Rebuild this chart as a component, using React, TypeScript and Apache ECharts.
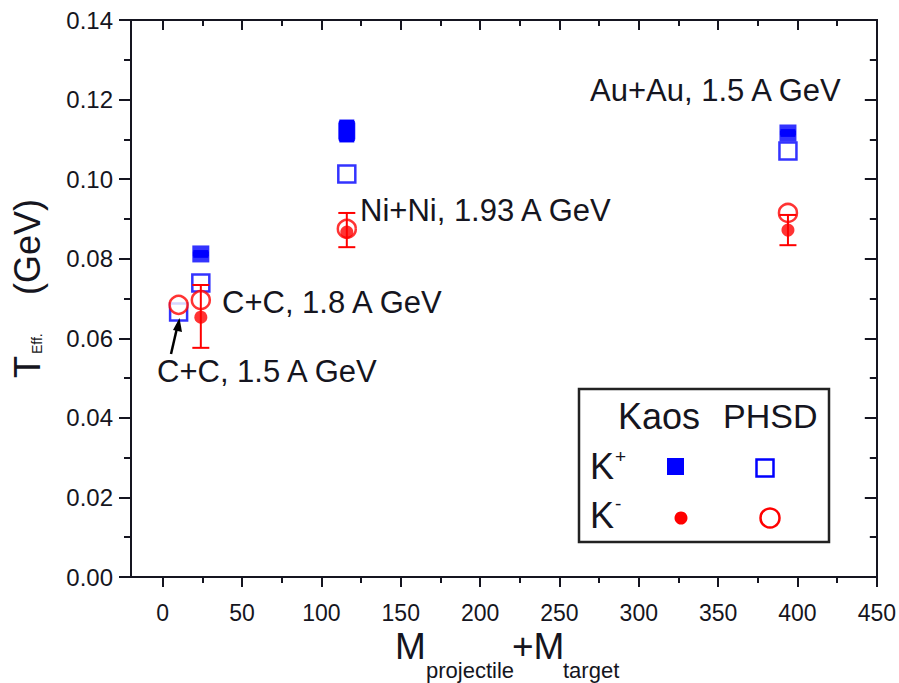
import React, { useEffect, useRef } from "react";
import * as echarts from "echarts";

// ---- data ----
const xMajorTicks = [0, 50, 100, 150, 200, 250, 300, 350, 400, 450];
const xMinorTicks = [25, 75, 125, 175, 225, 275, 325, 375, 425];
const yMinorTicks = [0.01, 0.03, 0.05, 0.07, 0.09, 0.11, 0.13];

// [M_proj + M_target, T_eff]
const kaosKPlus = [
  [24, 0.0812],
  [116, 0.1121],
  [394, 0.1116],
];
// [x, low, high]
const kaosKPlusErr = [
  [24, 0.0806, 0.0818],
  [116, 0.1096, 0.1146],
  [394, 0.111, 0.1122],
];
const phsdKPlus = [
  [10, 0.0666],
  [24, 0.0739],
  [116, 0.1013],
  [394, 0.1071],
];
const kaosKMinus = [
  [24, 0.0653],
  [116, 0.0867],
  [394, 0.0872],
];
const kaosKMinusErr = [
  [24, 0.0576, 0.0734],
  [116, 0.0829, 0.0915],
  [394, 0.0834, 0.091],
];
const phsdKMinus = [
  [10, 0.0684],
  [24, 0.0696],
  [116, 0.0875],
  [394, 0.0915],
];

const annotationTexts = [
  "Au+Au, 1.5 A GeV",
  "Ni+Ni, 1.93 A GeV",
  "C+C, 1.8 A GeV",
  "C+C, 1.5 A GeV",
];

const BLUE = "#0000ff";
const RED = "#ff0000";
const INK = "#151520";
const FONT = "'Liberation Sans', Arial, sans-serif";

function errorBars(data: number[][], color: string, cap: number, lw: number, capLw: number, z: number) {
  return {
    type: "custom",
    z,
    data,
    encode: { x: 0, y: [1, 2] },
    renderItem: (_p: any, api: any) => {
      const x = api.value(0);
      const lo = api.coord([x, api.value(1)]);
      const hi = api.coord([x, api.value(2)]);
      const hw = cap / 2;
      const style = { stroke: color, lineWidth: capLw };
      return {
        type: "group",
        children: [
          { type: "line", shape: { x1: lo[0], y1: lo[1], x2: hi[0], y2: hi[1] }, style: { stroke: color, lineWidth: lw } },
          { type: "line", shape: { x1: lo[0] - hw, y1: lo[1], x2: lo[0] + hw, y2: lo[1] }, style },
          { type: "line", shape: { x1: hi[0] - hw, y1: hi[1], x2: hi[0] + hw, y2: hi[1] }, style },
        ],
      };
    },
  };
}

export default function App() {
  const ref = useRef<HTMLDivElement>(null);

  useEffect(() => {
    if (!ref.current) return;
    const chart = echarts.init(ref.current, null, { renderer: "svg" });

    const axisLine = { show: true, onZero: false, lineStyle: { color: INK, width: 2 } };
    const baseX = { type: "value", min: -20, max: 450, splitLine: { show: false } };
    const baseY = { type: "value", min: 0, max: 0.14, splitLine: { show: false } };
    const tickStyle = { color: INK, width: 2 };

    const annPos = [
      [590, 90],
      [360, 210],
      [222, 302],
      [157, 371],
    ];

    const option: any = {
      animation: false,
      backgroundColor: "#ffffff",
      grid: { left: 131, right: 20, top: 20, bottom: 106, containLabel: false },
      xAxis: [
        {
          ...baseX,
          position: "bottom",
          axisLine,
          axisTick: { show: true, customValues: xMajorTicks, length: 10, lineStyle: tickStyle },
          axisLabel: {
            show: true,
            customValues: xMajorTicks,
            margin: 24,
            fontSize: 23,
            fontFamily: FONT,
            color: INK,
          },
        },
        {
          ...baseX,
          position: "bottom",
          axisLine,
          axisTick: { show: true, customValues: xMinorTicks, length: 6, lineStyle: tickStyle },
          axisLabel: { show: false },
        },
        {
          ...baseX,
          position: "top",
          axisLine,
          axisTick: { show: true, inside: true, customValues: xMajorTicks, length: 10, lineStyle: tickStyle },
          axisLabel: { show: false },
        },
        {
          ...baseX,
          position: "top",
          axisLine,
          axisTick: { show: true, inside: true, customValues: xMinorTicks, length: 6, lineStyle: tickStyle },
          axisLabel: { show: false },
        },
      ],
      yAxis: [
        {
          ...baseY,
          interval: 0.02,
          position: "left",
          axisLine,
          axisTick: { show: true, length: 12, lineStyle: tickStyle },
          axisLabel: {
            show: true,
            margin: 18,
            fontSize: 24,
            fontFamily: FONT,
            color: INK,
            formatter: (v: number) => v.toFixed(2),
          },
        },
        {
          ...baseY,
          position: "left",
          axisLine,
          axisTick: { show: true, customValues: yMinorTicks, length: 7, lineStyle: tickStyle },
          axisLabel: { show: false },
        },
        {
          ...baseY,
          interval: 0.02,
          position: "right",
          axisLine,
          axisTick: { show: true, inside: true, length: 12, lineStyle: tickStyle },
          axisLabel: { show: false },
        },
        {
          ...baseY,
          position: "right",
          axisLine,
          axisTick: { show: true, inside: true, customValues: yMinorTicks, length: 7, lineStyle: tickStyle },
          axisLabel: { show: false },
        },
      ],
      series: [
        errorBars(kaosKPlusErr, BLUE, 15, 16, 3, 2),
        {
          name: "Kaos K+",
          type: "scatter",
          z: 3,
          data: kaosKPlus,
          symbol: "rect",
          symbolSize: 17,
          itemStyle: { color: BLUE },
        },
        {
          name: "PHSD K+",
          type: "scatter",
          z: 4,
          data: phsdKPlus,
          symbol: "rect",
          symbolSize: 17,
          itemStyle: { color: "#ffffff", borderColor: BLUE, borderWidth: 2.5 },
        },
        {
          name: "PHSD K-",
          type: "scatter",
          z: 5,
          data: phsdKMinus,
          symbol: "circle",
          symbolSize: 18,
          itemStyle: { color: "#ffffff", borderColor: RED, borderWidth: 2.5 },
        },
        errorBars(kaosKMinusErr, RED, 17, 2, 2, 6),
        {
          name: "Kaos K-",
          type: "scatter",
          z: 7,
          data: kaosKMinus,
          symbol: "circle",
          symbolSize: 13,
          itemStyle: { color: RED },
        },
      ],
      graphic: [
        // annotations
        ...annotationTexts.map((t, i) => ({
          type: "text",
          x: annPos[i][0],
          y: annPos[i][1],
          z: 20,
          style: {
            text: t,
            fontSize: 31,
            fontFamily: FONT,
            fill: INK,
            align: "left",
            verticalAlign: "middle",
          },
        })),
        // arrow
        {
          type: "line",
          z: 20,
          shape: { x1: 171, y1: 354, x2: 177, y2: 328 },
          style: { stroke: "#000", lineWidth: 2.5 },
        },
        {
          type: "polygon",
          z: 20,
          shape: { points: [[179.5, 318], [173, 330], [182, 332]] },
          style: { fill: "#000" },
        },
        // legend box
        {
          type: "rect",
          z: 20,
          shape: { x: 579, y: 389, width: 250, height: 153 },
          style: { fill: "#ffffff", stroke: "#222", lineWidth: 2.5 },
        },
        {
          type: "text",
          z: 21,
          x: 618,
          y: 416,
          style: { text: "Kaos", fontSize: 36, fontFamily: FONT, fill: INK, align: "left", verticalAlign: "middle" },
        },
        {
          type: "text",
          z: 21,
          x: 723,
          y: 416,
          style: { text: "PHSD", fontSize: 34, fontFamily: FONT, fill: INK, align: "left", verticalAlign: "middle" },
        },
        {
          type: "text",
          z: 21,
          x: 590,
          y: 466,
          style: { text: "K", fontSize: 36, fontFamily: FONT, fill: INK, align: "left", verticalAlign: "middle" },
        },
        {
          type: "text",
          z: 21,
          x: 615,
          y: 456,
          style: { text: "+", fontSize: 19, fontFamily: FONT, fill: INK, align: "left", verticalAlign: "middle" },
        },
        {
          type: "text",
          z: 21,
          x: 590,
          y: 515,
          style: { text: "K", fontSize: 36, fontFamily: FONT, fill: INK, align: "left", verticalAlign: "middle" },
        },
        {
          type: "text",
          z: 21,
          x: 615,
          y: 503,
          style: { text: "-", fontSize: 19, fontFamily: FONT, fill: INK, align: "left", verticalAlign: "middle" },
        },
        {
          type: "rect",
          z: 21,
          shape: { x: 667, y: 458, width: 17, height: 17 },
          style: { fill: BLUE },
        },
        {
          type: "rect",
          z: 21,
          shape: { x: 756.5, y: 459.5, width: 17, height: 17 },
          style: { fill: "#fff", stroke: BLUE, lineWidth: 2.5 },
        },
        {
          type: "circle",
          z: 21,
          shape: { cx: 681, cy: 518, r: 6.5 },
          style: { fill: RED },
        },
        {
          type: "circle",
          z: 21,
          shape: { cx: 770, cy: 518, r: 9.5 },
          style: { fill: "#fff", stroke: RED, lineWidth: 2.5 },
        },
        // x-axis title
        {
          type: "text", x: 395, y: 646,
          style: { text: "M", fontSize: 37, fontFamily: FONT, fill: INK, align: "left", verticalAlign: "middle" },
        },
        {
          type: "text", x: 426, y: 670,
          style: { text: "projectile", fontSize: 22, fontFamily: FONT, fill: INK, align: "left", verticalAlign: "middle" },
        },
        {
          type: "text", x: 512, y: 646,
          style: { text: "+M", fontSize: 37, fontFamily: FONT, fill: INK, align: "left", verticalAlign: "middle" },
        },
        {
          type: "text", x: 563, y: 670,
          style: { text: "target", fontSize: 22, fontFamily: FONT, fill: INK, align: "left", verticalAlign: "middle" },
        },
        // y-axis title (rotated)
        {
          type: "group",
          x: 27.5,
          y: 378,
          rotation: Math.PI / 2,
          children: [
            {
              type: "text", x: 0, y: 0,
              style: { text: "T", fontSize: 36, fontFamily: FONT, fill: INK, align: "left", verticalAlign: "middle" },
            },
            {
              type: "text", x: 24, y: 9,
              style: { text: "Eff.", fontSize: 14, fontFamily: FONT, fill: INK, align: "left", verticalAlign: "middle" },
            },
            {
              type: "text", x: 83, y: 0,
              style: { text: "(GeV)", fontSize: 36, fontFamily: FONT, fill: INK, align: "left", verticalAlign: "middle" },
            },
          ],
        },
      ],
    };

    chart.setOption(option);
    return () => chart.dispose();
  }, []);

  return (
    <div
      ref={ref}
      style={{ position: "fixed", left: 0, top: 0, width: 899, height: 683, background: "#fff" }}
    />
  );
}
